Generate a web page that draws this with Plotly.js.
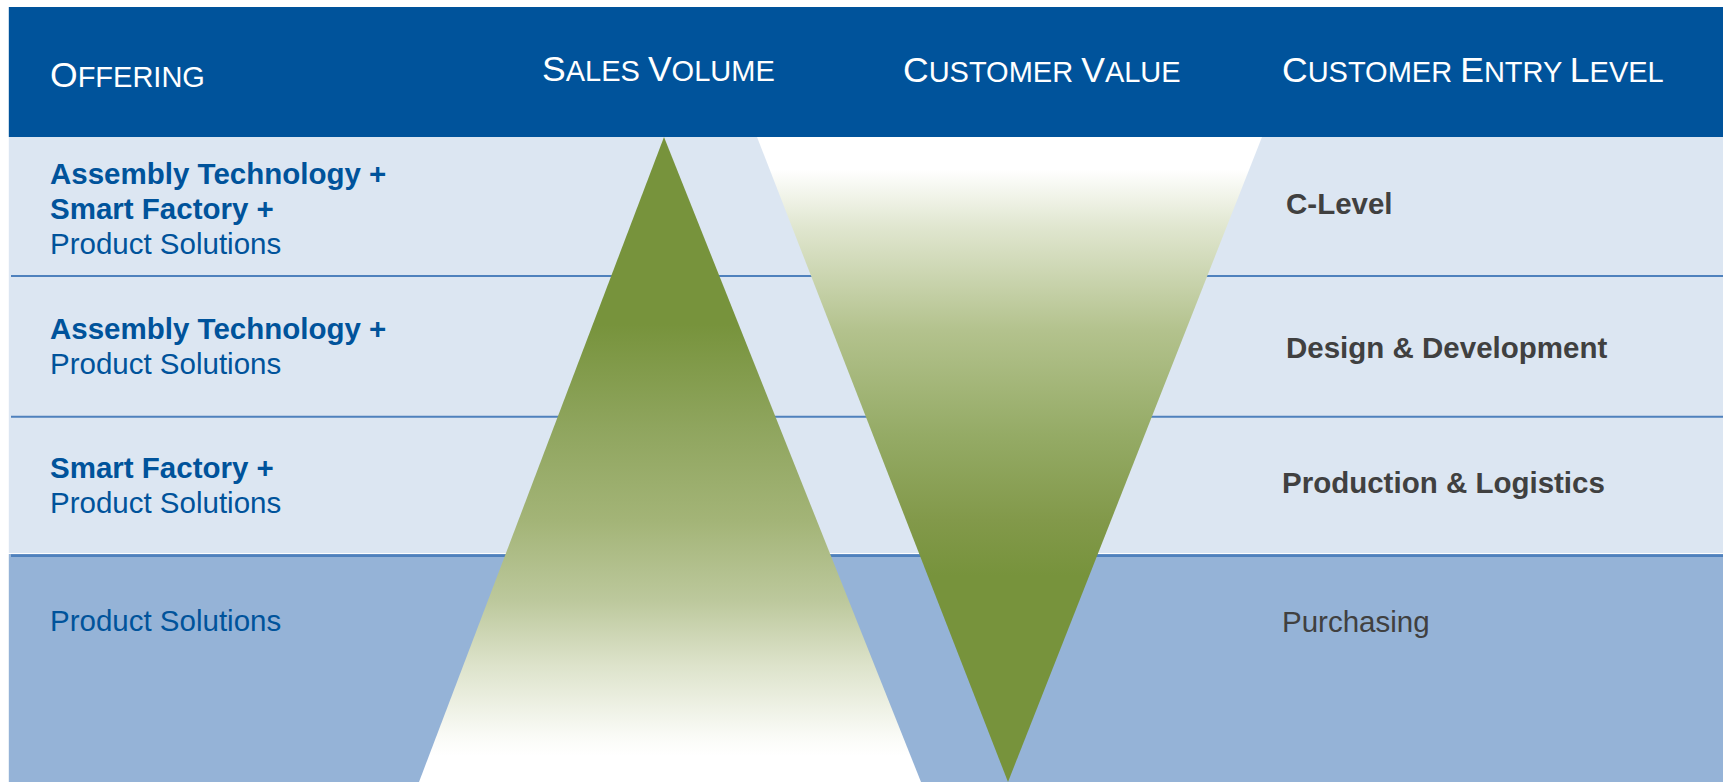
<!DOCTYPE html>
<html>
<head>
<meta charset="utf-8">
<script src="https://cdn.plot.ly/plotly-3.0.1.min.js"></script>
<style>
html,body{margin:0;padding:0;background:#ffffff;overflow:hidden}
#chart{width:1723px;height:782px}
</style>
</head>
<body>
<div id="chart"></div>
<script>
// ---------------- data ----------------
const columnHeaders = ['Offering', 'Sales Volume', 'Customer Value', 'Customer Entry Level'];
const offeringBoldLines = [
  ['Assembly Technology +', 'Smart Factory +'],
  ['Assembly Technology +'],
  ['Smart Factory +'],
  []
];
const offeringBaseLine = ['Product Solutions', 'Product Solutions', 'Product Solutions', 'Product Solutions'];
const entryLevels = ['C-Level', 'Design & Development', 'Production & Logistics', 'Purchasing'];
const entryLevelBold = [true, true, true, false];

// ---------------- layout geometry & styles (pixel space of the slide) ----------------
const G = {
  W: 1723, H: 782,
  left: 8.8,
  header: {top: 7, bottom: 137},
  rows: [[137, 276], [276, 417], [417, 553], [554, 782]],
  separators: [{y: 276, w: 2}, {y: 416.7, w: 2}, {y: 555.6, w: 2.6}],
  sepX0: 11,
  headerX: [48, 540, 901, 1280],
  headerY: [75, 69, 70, 70],
  leftX: 47.5,
  lineGap: 35,
  leftCenters: [208, 346, 485, 620],
  rightX: [1284, 1284, 1280, 1280],
  rightCenters: [203, 347, 482, 621],
  salesWedge: {apexX: 664, apexY: 137, baseY: 782, baseL: 419, baseR: 921},
  valueWedge: {topY: 137, topL: 757, topR: 1262, apexX: 1008, apexY: 782}
};
const C = {
  header: '#00539B',
  rowLight: '#DCE6F2',
  rowDark: '#95B3D7',
  sep: '#4F81BD',
  leftText: '#00539B',
  rightText: '#404040',
  headText: '#FFFFFF'
};
const FONT = '"Liberation Sans", Arial, Helvetica, sans-serif';
const BODY = 29.5, HEAD_SMALL = 29, HEAD_BIG = 35.5;

const salesScale = [[0, '#77933C'], [0.29, '#77933C'], [0.45, '#8FA55E'], [0.594, '#A3B477'],
  [0.718, '#BCC89C'], [0.82, '#DDE3CB'], [0.93, '#FAFBF7'], [0.96, '#FFFFFF'], [1, '#FFFFFF']];
const valueScale = [[0, '#FFFFFF'], [0.05, '#FFFFFF'], [0.14, '#E0E6CF'], [0.3, '#B3C28D'],
  [0.46, '#95AB66'], [0.594, '#82994A'], [0.68, '#77933C'], [1, '#77933C']];

// ---------------- shapes ----------------
const shapes = [];
shapes.push({type: 'rect', layer: 'below', xref: 'x', yref: 'y', x0: G.left, x1: G.W,
  y0: G.header.top, y1: G.header.bottom, fillcolor: C.header, line: {width: 0}});
G.rows.forEach((r, i) => {
  shapes.push({type: 'rect', layer: 'below', xref: 'x', yref: 'y', x0: G.left, x1: G.W,
    y0: r[0], y1: r[1], fillcolor: i === G.rows.length - 1 ? C.rowDark : C.rowLight, line: {width: 0}});
});
G.separators.forEach(s => {
  shapes.push({type: 'line', layer: 'below', xref: 'x', yref: 'y', x0: G.sepX0, x1: G.W,
    y0: s.y, y1: s.y, line: {color: C.sep, width: s.w}});
});

// ---------------- wedges (traces) ----------------
const sw = G.salesWedge, vw = G.valueWedge;
const traces = [
  {
    type: 'scatter', mode: 'lines', hoverinfo: 'skip', showlegend: false,
    x: [sw.baseL, sw.apexX, sw.baseR, sw.baseL],
    y: [sw.baseY, sw.apexY, sw.baseY, sw.baseY],
    fill: 'toself', line: {width: 0, color: 'rgba(0,0,0,0)'},
    fillgradient: {type: 'vertical', start: sw.apexY, stop: sw.baseY, colorscale: salesScale}
  },
  {
    type: 'scatter', mode: 'lines', hoverinfo: 'skip', showlegend: false,
    x: [vw.topL, vw.topR, vw.apexX, vw.topL],
    y: [vw.topY, vw.topY, vw.apexY, vw.topY],
    fill: 'toself', line: {width: 0, color: 'rgba(0,0,0,0)'},
    fillgradient: {type: 'vertical', start: vw.topY, stop: vw.apexY, colorscale: valueScale}
  }
];

// ---------------- annotations ----------------
const annotations = [];
function smallCaps(txt) {
  return txt.split(' ').map(w =>
    '<span style="font-size:' + HEAD_BIG + 'px">' + w.charAt(0).toUpperCase() + '</span>' + w.slice(1).toUpperCase()
  ).join(' ');
}
columnHeaders.forEach((h, i) => {
  annotations.push({xref: 'x', yref: 'y', x: G.headerX[i], y: G.headerY[i], xanchor: 'left', yanchor: 'middle',
    showarrow: false, text: smallCaps(h), font: {family: FONT, size: HEAD_SMALL, color: C.headText}});
});
G.rows.forEach((r, i) => {
  const lines = offeringBoldLines[i].map(t => ({t: t, b: true})).concat([{t: offeringBaseLine[i], b: false}]);
  const n = lines.length;
  lines.forEach((ln, j) => {
    const y = G.leftCenters[i] + (j - (n - 1) / 2) * G.lineGap;
    annotations.push({xref: 'x', yref: 'y', x: G.leftX, y: y, xanchor: 'left', yanchor: 'middle',
      showarrow: false, text: ln.b ? '<b>' + ln.t + '</b>' : ln.t,
      font: {family: FONT, size: BODY, color: C.leftText}});
  });
  annotations.push({xref: 'x', yref: 'y', x: G.rightX[i], y: G.rightCenters[i], xanchor: 'left', yanchor: 'middle',
    showarrow: false, text: entryLevelBold[i] ? '<b>' + entryLevels[i].replace(/&/g, '&amp;') + '</b>' : entryLevels[i],
    font: {family: FONT, size: BODY, color: C.rightText}});
});

const layout = {
  width: G.W, height: G.H,
  margin: {l: 0, r: 0, t: 0, b: 0, pad: 0},
  paper_bgcolor: '#FFFFFF', plot_bgcolor: 'rgba(0,0,0,0)',
  xaxis: {range: [0, G.W], visible: false, fixedrange: true},
  yaxis: {range: [G.H, 0], visible: false, fixedrange: true},
  showlegend: false,
  shapes: shapes,
  annotations: annotations
};

Plotly.newPlot('chart', traces, layout, {staticPlot: true, displayModeBar: false});
</script>
</body>
</html>
